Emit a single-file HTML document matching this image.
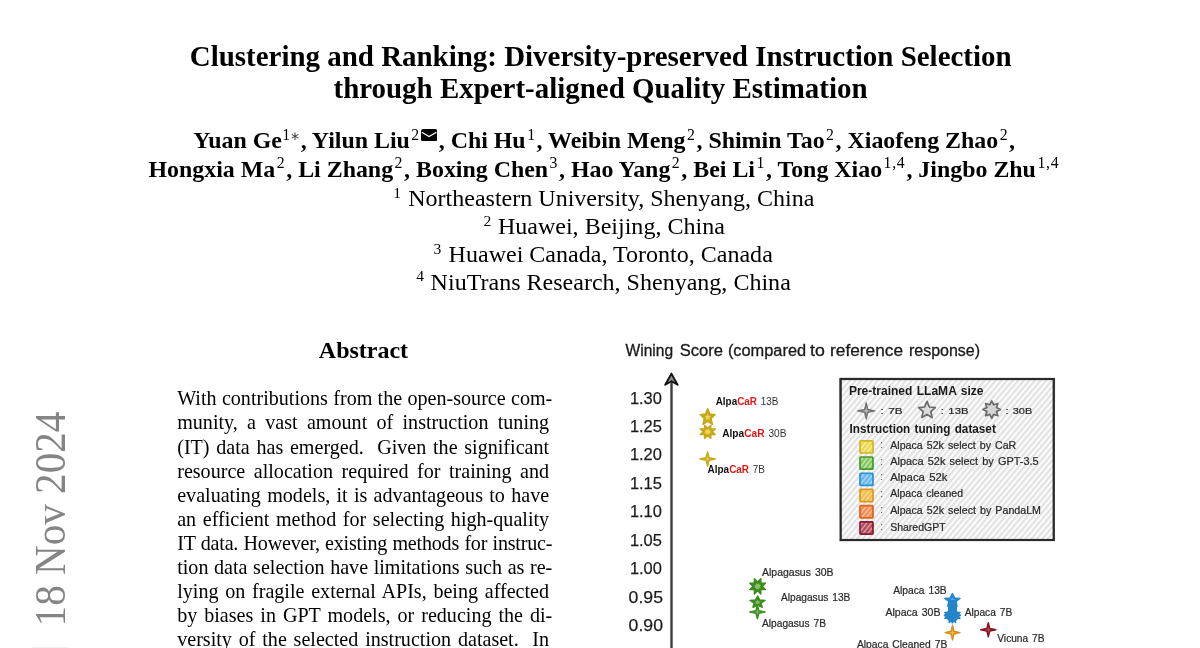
<!DOCTYPE html>
<html><head><meta charset="utf-8"><title>Clustering and Ranking</title>
<style>
html,body{margin:0;padding:0;background:#fff;}
body{width:1200px;height:648px;overflow:hidden;position:relative;font-family:"Liberation Serif",serif;color:#000;}
.l{position:absolute;white-space:nowrap;line-height:1;}
.t{font-weight:bold;}
.a{font-weight:bold;}
.s{display:inline-block;font-weight:normal;font-size:15.8px;position:relative;top:-8.7px;line-height:0;text-align:left;box-sizing:border-box;padding-left:1.5px;}
.fs{position:absolute;font-size:15.6px;line-height:1;}
#stamp{position:absolute;left:0;top:0;color:#858585;transform-origin:0 0;white-space:nowrap;line-height:1;}
svg text{font-family:"Liberation Sans",sans-serif;word-spacing:1.1px;}
</style></head><body><div id="wrap" style="position:absolute;left:0;top:0;width:1200px;height:648px;will-change:transform;">
<div class="l t" id="t1" style="left:189.80px;top:42.06px;font-size:28.94px;">Clustering and Ranking: Diversity-preserved Instruction Selection</div>
<div class="l t" id="t2" style="left:333.50px;top:73.56px;font-size:28.94px;">through Expert-aligned Quality Estimation</div>
<div class="l a" id="a1" style="left:193.20px;top:129.38px;font-size:23.90px;"><span class="n">Yuan Ge</span><span class="s" style="width:18.80px;padding-left:0.4px">1<span style="font-size:11.5px;position:relative;top:0.4px;left:-0.3px;color:#444">∗</span></span>, <span class="n">Yilun Liu</span><span class="s" style="width:10.95px">2</span><svg width="16.2" height="12.4" viewBox="0 0 16.2 12.4" style="display:inline-block;position:relative;top:-7.3px;margin:0 1.3px 0 0.4px"><rect x="0" y="0" width="16.2" height="12.4" rx="2.2" fill="#000"/><path d="M0.8 3.3 L8.1 7.6 L15.4 3.3" stroke="#fff" stroke-width="1.25" fill="none"/></svg>, <span class="n">Chi Hu</span><span class="s" style="width:10.95px">1</span>, <span class="n">Weibin Meng</span><span class="s" style="width:10.95px">2</span>, <span class="n">Shimin Tao</span><span class="s" style="width:10.95px">2</span>, <span class="n">Xiaofeng Zhao</span><span class="s" style="width:10.95px">2</span>,</div>
<div class="l a" id="a2" style="left:148.50px;top:157.58px;font-size:23.90px;"><span class="n">Hongxia Ma</span><span class="s" style="width:10.95px">2</span>, <span class="n">Li Zhang</span><span class="s" style="width:10.95px">2</span>, <span class="n">Boxing Chen</span><span class="s" style="width:10.95px">3</span>, <span class="n">Hao Yang</span><span class="s" style="width:10.95px">2</span>, <span class="n">Bei Li</span><span class="s" style="width:10.95px">1</span>, <span class="n">Tong Xiao</span><span class="s" style="width:24.30px">1<span style="margin:0 0.7px">,</span>4</span>, <span class="n">Jingbo Zhu</span><span class="s" style="width:22.00px">1<span style="margin:0 0.7px">,</span>4</span></div>
<div class="fs" style="left:393.20px;top:184.53px;">1</div>
<div class="l f" id="f1" style="left:408.20px;top:185.77px;font-size:24.04px;">Northeastern University, Shenyang, China</div>
<div class="fs" style="left:483.50px;top:212.63px;">2</div>
<div class="l f" id="f2" style="left:497.90px;top:213.87px;font-size:24.04px;">Huawei, Beijing, China</div>
<div class="fs" style="left:433.60px;top:240.63px;">3</div>
<div class="l f" id="f3" style="left:448.60px;top:241.87px;font-size:24.04px;">Huawei Canada, Toronto, Canada</div>
<div class="fs" style="left:416.20px;top:268.33px;">4</div>
<div class="l f" id="f4" style="left:430.60px;top:269.57px;font-size:24.04px;">NiuTrans Research, Shenyang, China</div>
<div class="l a" id="ab" style="left:318.80px;top:337.70px;font-size:24.00px;">Abstract</div>
<div class="l b" id="p1" style="left:177.20px;top:388.37px;font-size:20.10px;word-spacing:0.297px;">With contributions from the open-source com-</div>
<div class="l b" id="p2" style="left:177.20px;top:412.47px;font-size:20.10px;word-spacing:4.251px;">munity, a vast amount of instruction tuning</div>
<div class="l b" id="p3" style="left:177.20px;top:436.57px;font-size:20.10px;word-spacing:1.691px;">(IT) data has emerged.&nbsp; Given the significant</div>
<div class="l b" id="p4" style="left:177.20px;top:460.67px;font-size:20.10px;word-spacing:3.526px;">resource allocation required for training and</div>
<div class="l b" id="p5" style="left:177.20px;top:484.77px;font-size:20.10px;word-spacing:1.254px;">evaluating models, it is advantageous to have</div>
<div class="l b" id="p6" style="left:177.20px;top:508.87px;font-size:20.10px;word-spacing:1.583px;">an efficient method for selecting high-quality</div>
<div class="l b" id="p7" style="left:177.20px;top:532.97px;font-size:20.10px;word-spacing:0.480px;letter-spacing:-0.2px;">IT data. However, existing methods for instruc-</div>
<div class="l b" id="p8" style="left:177.20px;top:557.07px;font-size:20.10px;word-spacing:0.576px;">tion data selection have limitations such as re-</div>
<div class="l b" id="p9" style="left:177.20px;top:581.17px;font-size:20.10px;word-spacing:1.691px;">lying on fragile external APIs, being affected</div>
<div class="l b" id="p10" style="left:177.20px;top:605.27px;font-size:20.10px;word-spacing:1.940px;">by biases in GPT models, or reducing the di-</div>
<div class="l b" id="p11" style="left:177.20px;top:629.37px;font-size:20.10px;word-spacing:1.796px;">versity of the selected instruction dataset.&nbsp; In</div>
<div id="stamp" style="font-size:43.8px;transform:translate(28.6px,626.4px) rotate(-90deg) scale(0.939,1);">18 Nov 2024</div>
<div style="position:absolute;left:32px;top:647px;width:36.5px;height:1px;background:#f2f2f2"></div>
<svg id="chart" width="1200" height="648" viewBox="0 0 1200 648" style="position:absolute;left:0;top:0;overflow:visible">
<defs>
<pattern id="hat" width="4.3" height="4.3" patternUnits="userSpaceOnUse" patternTransform="rotate(-50)"><rect width="4.3" height="4.3" fill="#fdfdfd"/><rect y="0" width="4.3" height="2.3" fill="#e3e3e3"/></pattern>
<pattern id="hw" width="3.6" height="3.6" patternUnits="userSpaceOnUse" patternTransform="rotate(-52)"><rect y="0" width="3.6" height="1.2" fill="#fff" fill-opacity="0.55"/></pattern>
</defs>
<text x="625.50" y="356.40" font-size="15.80" fill="#1a1a1a" font-weight="normal" textLength="47.60" lengthAdjust="spacingAndGlyphs" stroke="#1a1a1a" stroke-width="0.3">Wining</text>
<text x="679.80" y="356.40" font-size="15.80" fill="#1a1a1a" font-weight="normal" textLength="43.20" lengthAdjust="spacingAndGlyphs" stroke="#1a1a1a" stroke-width="0.3">Score</text>
<text x="727.90" y="356.40" font-size="15.80" fill="#1a1a1a" font-weight="normal" textLength="78.20" lengthAdjust="spacingAndGlyphs" stroke="#1a1a1a" stroke-width="0.3">(compared</text>
<text x="810.10" y="356.40" font-size="15.80" fill="#1a1a1a" font-weight="normal" textLength="14.80" lengthAdjust="spacingAndGlyphs" stroke="#1a1a1a" stroke-width="0.3">to</text>
<text x="830.10" y="356.40" font-size="15.80" fill="#1a1a1a" font-weight="normal" textLength="73.00" lengthAdjust="spacingAndGlyphs" stroke="#1a1a1a" stroke-width="0.3">reference</text>
<text x="908.90" y="356.40" font-size="15.80" fill="#1a1a1a" font-weight="normal" textLength="71.20" lengthAdjust="spacingAndGlyphs" stroke="#1a1a1a" stroke-width="0.3">response)</text>
<path d="M671.5 648 L671.5 380" stroke="#3c3c3c" stroke-width="2.4" fill="none"/>
<path d="M665.2 384.8 L671.4 373.6 L677.6 384.8 L671.5 381.2 Z" stroke="#141414" stroke-width="1.9" fill="#8a8a8a" stroke-linejoin="round"/>
<text x="629.90" y="403.60" font-size="16.80" fill="#1c1c1c" font-weight="normal" textLength="32.00" lengthAdjust="spacingAndGlyphs" stroke="#1c1c1c" stroke-width="0.25">1.30</text>
<text x="629.90" y="432.02" font-size="16.80" fill="#1c1c1c" font-weight="normal" textLength="32.00" lengthAdjust="spacingAndGlyphs" stroke="#1c1c1c" stroke-width="0.25">1.25</text>
<text x="629.90" y="460.44" font-size="16.80" fill="#1c1c1c" font-weight="normal" textLength="32.00" lengthAdjust="spacingAndGlyphs" stroke="#1c1c1c" stroke-width="0.25">1.20</text>
<text x="629.90" y="488.86" font-size="16.80" fill="#1c1c1c" font-weight="normal" textLength="32.00" lengthAdjust="spacingAndGlyphs" stroke="#1c1c1c" stroke-width="0.25">1.15</text>
<text x="629.90" y="517.28" font-size="16.80" fill="#1c1c1c" font-weight="normal" textLength="32.00" lengthAdjust="spacingAndGlyphs" stroke="#1c1c1c" stroke-width="0.25">1.10</text>
<text x="629.90" y="545.70" font-size="16.80" fill="#1c1c1c" font-weight="normal" textLength="32.00" lengthAdjust="spacingAndGlyphs" stroke="#1c1c1c" stroke-width="0.25">1.05</text>
<text x="629.90" y="574.12" font-size="16.80" fill="#1c1c1c" font-weight="normal" textLength="32.00" lengthAdjust="spacingAndGlyphs" stroke="#1c1c1c" stroke-width="0.25">1.00</text>
<text x="628.60" y="602.54" font-size="16.80" fill="#1c1c1c" font-weight="normal" textLength="34.40" lengthAdjust="spacingAndGlyphs" stroke="#1c1c1c" stroke-width="0.25">0.95</text>
<text x="628.60" y="630.96" font-size="16.80" fill="#1c1c1c" font-weight="normal" textLength="34.40" lengthAdjust="spacingAndGlyphs" stroke="#1c1c1c" stroke-width="0.25">0.90</text>
<rect x="840.7" y="379" width="213" height="161" fill="url(#hat)" stroke="#2b2b2b" stroke-width="2.2"/>
<path d="M840 378.4 L1055 378.9 M1054.6 378 L1054.2 541 M839.8 378 L840.4 541.2 M839.6 540.6 L1055 540.2" stroke="#2b2b2b" stroke-width="0.9" fill="none" opacity="0.8"/>
<text x="848.90" y="394.70" font-size="12.60" fill="#1a1a1a" font-weight="bold" textLength="134.60" lengthAdjust="spacingAndGlyphs" >Pre-trained LLaMA size</text>
<polygon points="866.20,402.65 867.82,409.32 874.70,410.90 867.82,412.48 866.20,419.15 864.58,412.48 857.70,410.90 864.58,409.32" fill="#757575" stroke="#757575" stroke-width="1.20" stroke-linejoin="round"/><polygon points="866.20,406.77 866.86,410.26 870.45,410.90 866.86,411.54 866.20,415.02 865.54,411.54 861.95,410.90 865.54,410.26" fill="#cfcfcf" opacity="0.9"/>
<text x="880.40" y="414.00" font-size="9.80" fill="#2a2a2a" font-weight="normal" textLength="22.00" lengthAdjust="spacingAndGlyphs" stroke="#2a2a2a" stroke-width="0.22">: 7B</text>
<polygon points="927.00,401.35 929.37,406.99 935.35,407.56 930.84,411.62 932.16,417.61 927.00,414.47 921.84,417.61 923.16,411.62 918.65,407.56 924.63,406.99" fill="#dadada" stroke="#6a6a6a" stroke-width="1.70" stroke-linejoin="round"/>
<text x="940.80" y="414.00" font-size="9.80" fill="#2a2a2a" font-weight="normal" textLength="27.70" lengthAdjust="spacingAndGlyphs" stroke="#2a2a2a" stroke-width="0.22">: 13B</text>
<polygon points="991.70,400.95 993.69,404.81 997.82,403.48 996.49,407.61 1000.35,409.60 996.49,411.59 997.82,415.72 993.69,414.39 991.70,418.25 989.71,414.39 985.58,415.72 986.91,411.59 983.05,409.60 986.91,407.61 985.58,403.48 989.71,404.81" fill="#d4d4d4" stroke="#6a6a6a" stroke-width="1.70" stroke-linejoin="round"/>
<text x="1005.40" y="414.00" font-size="9.80" fill="#2a2a2a" font-weight="normal" textLength="26.80" lengthAdjust="spacingAndGlyphs" stroke="#2a2a2a" stroke-width="0.22">: 30B</text>
<text x="849.60" y="433.00" font-size="12.60" fill="#1a1a1a" font-weight="bold" textLength="146.20" lengthAdjust="spacingAndGlyphs" >Instruction tuning dataset</text>
<rect x="860" y="440.80" width="13.0" height="12.2" fill="#ead94c" stroke="#d2b62a" stroke-width="1.7" rx="0.8"/>
<rect x="861" y="441.80" width="11.0" height="10.2" fill="url(#hw)"/>
<text x="880.30" y="448.10" font-size="10.00" fill="#555" font-weight="normal" >:</text>
<text x="890.20" y="448.70" font-size="10.50" fill="#2a2a2a" font-weight="normal" textLength="126.10" lengthAdjust="spacingAndGlyphs" stroke="#2a2a2a" stroke-width="0.22">Alpaca 52k select by CaR</text>
<rect x="860" y="457.02" width="13.0" height="12.2" fill="#86c860" stroke="#469a2c" stroke-width="1.7" rx="0.8"/>
<rect x="861" y="458.02" width="11.0" height="10.2" fill="url(#hw)"/>
<text x="880.30" y="464.60" font-size="10.00" fill="#555" font-weight="normal" >:</text>
<text x="890.20" y="465.20" font-size="10.50" fill="#2a2a2a" font-weight="normal" textLength="148.40" lengthAdjust="spacingAndGlyphs" stroke="#2a2a2a" stroke-width="0.22">Alpaca 52k select by GPT-3.5</text>
<rect x="860" y="473.24" width="13.0" height="12.2" fill="#62b8ea" stroke="#2c90d6" stroke-width="1.7" rx="0.8"/>
<rect x="861" y="474.24" width="11.0" height="10.2" fill="url(#hw)"/>
<text x="880.30" y="480.00" font-size="10.00" fill="#555" font-weight="normal" >:</text>
<text x="890.20" y="480.60" font-size="10.50" fill="#2a2a2a" font-weight="normal" textLength="57.30" lengthAdjust="spacingAndGlyphs" stroke="#2a2a2a" stroke-width="0.22">Alpaca 52k</text>
<rect x="860" y="489.46" width="13.0" height="12.2" fill="#f2bc48" stroke="#e0981c" stroke-width="1.7" rx="0.8"/>
<rect x="861" y="490.46" width="11.0" height="10.2" fill="url(#hw)"/>
<text x="880.30" y="496.80" font-size="10.00" fill="#555" font-weight="normal" >:</text>
<text x="890.20" y="497.40" font-size="10.50" fill="#2a2a2a" font-weight="normal" textLength="72.80" lengthAdjust="spacingAndGlyphs" stroke="#2a2a2a" stroke-width="0.22">Alpaca cleaned</text>
<rect x="860" y="505.68" width="13.0" height="12.2" fill="#f48c52" stroke="#e2621e" stroke-width="1.7" rx="0.8"/>
<rect x="861" y="506.68" width="11.0" height="10.2" fill="url(#hw)"/>
<text x="880.30" y="513.20" font-size="10.00" fill="#555" font-weight="normal" >:</text>
<text x="890.20" y="513.80" font-size="10.50" fill="#2a2a2a" font-weight="normal" textLength="150.80" lengthAdjust="spacingAndGlyphs" stroke="#2a2a2a" stroke-width="0.22">Alpaca 52k select by PandaLM</text>
<rect x="860" y="521.90" width="13.0" height="12.2" fill="#b44a5a" stroke="#8c1c2e" stroke-width="1.7" rx="0.8"/>
<rect x="861" y="522.90" width="11.0" height="10.2" fill="url(#hw)"/>
<text x="880.30" y="530.40" font-size="10.00" fill="#555" font-weight="normal" >:</text>
<text x="890.20" y="531.00" font-size="10.50" fill="#2a2a2a" font-weight="normal" textLength="55.40" lengthAdjust="spacingAndGlyphs" stroke="#2a2a2a" stroke-width="0.22">SharedGPT</text>
<polygon points="710.85,425.20 710.84,429.07 715.30,429.07 712.14,431.80 715.30,434.53 710.84,434.53 710.85,438.40 707.70,435.66 704.55,438.40 704.56,434.53 700.10,434.53 703.26,431.80 700.10,429.07 704.56,429.07 704.55,425.20 707.70,427.94" fill="#c6a81a" stroke="#c6a81a" stroke-width="1.40" stroke-linejoin="round"/><polygon points="709.01,429.06 709.39,430.33 710.86,430.66 710.09,431.80 710.86,432.94 709.39,433.27 709.01,434.54 707.70,433.88 706.39,434.54 706.01,433.27 704.54,432.94 705.31,431.80 704.54,430.66 706.01,430.33 706.39,429.06 707.70,429.72" fill="#ecdc58" opacity="0.9"/>
<polygon points="707.70,408.60 709.86,414.06 715.30,414.61 711.20,418.53 712.40,424.33 707.70,421.30 703.00,424.33 704.20,418.53 700.10,414.61 705.54,414.06" fill="#c6a81a" stroke="#c6a81a" stroke-width="1.40" stroke-linejoin="round"/><polygon points="707.70,413.64 708.69,415.82 710.89,416.17 709.30,417.86 709.67,420.25 707.70,419.12 705.73,420.25 706.10,417.86 704.51,416.17 706.71,415.82" fill="#ecdc58" opacity="0.9"/>
<polygon points="707.60,451.80 709.05,457.63 715.20,459.00 709.05,460.37 707.60,466.20 706.15,460.37 700.00,459.00 706.15,457.63" fill="#c6a81a" stroke="#c6a81a" stroke-width="1.40" stroke-linejoin="round"/><polygon points="707.60,455.40 708.19,458.44 711.40,459.00 708.19,459.56 707.60,462.60 707.01,459.56 703.80,459.00 707.01,458.44" fill="#ecdc58" opacity="0.9"/>
<text x="715.70" y="404.70" font-size="10.4" textLength="62.80" lengthAdjust="spacingAndGlyphs"><tspan font-weight="bold" fill="#111">Alpa</tspan><tspan font-weight="bold" fill="#e01818">CaR</tspan><tspan fill="#333"> 13B</tspan></text>
<text x="722.20" y="436.70" font-size="10.4" textLength="64.30" lengthAdjust="spacingAndGlyphs"><tspan font-weight="bold" fill="#111">Alpa</tspan><tspan font-weight="bold" fill="#e01818">CaR</tspan><tspan fill="#333"> 30B</tspan></text>
<text x="707.60" y="473.00" font-size="10.4" textLength="57.40" lengthAdjust="spacingAndGlyphs"><tspan font-weight="bold" fill="#111">Alpa</tspan><tspan font-weight="bold" fill="#e01818">CaR</tspan><tspan fill="#333"> 7B</tspan></text>
<polygon points="760.83,578.80 760.82,583.26 765.40,583.25 762.16,586.40 765.40,589.55 760.82,589.54 760.83,594.00 757.60,590.84 754.37,594.00 754.38,589.54 749.80,589.55 753.04,586.40 749.80,583.25 754.38,583.26 754.37,578.80 757.60,581.96" fill="#3c8c1c" stroke="#3c8c1c" stroke-width="1.40" stroke-linejoin="round"/><polygon points="758.94,583.24 759.34,584.71 760.84,585.09 760.06,586.40 760.84,587.71 759.34,588.09 758.94,589.56 757.60,588.79 756.26,589.56 755.86,588.09 754.36,587.71 755.14,586.40 754.36,585.09 755.86,584.71 756.26,583.24 757.60,584.01" fill="#8cc870" opacity="0.9"/>
<polygon points="757.60,596.05 759.73,599.95 765.10,600.34 761.05,603.14 762.24,607.28 757.60,605.12 752.96,607.28 754.15,603.14 750.10,600.34 755.47,599.95" fill="#3c8c1c" stroke="#3c8c1c" stroke-width="1.40" stroke-linejoin="round"/><polygon points="757.60,599.65 758.57,601.20 760.75,601.45 759.18,602.66 759.55,604.37 757.60,603.56 755.65,604.37 756.02,602.66 754.45,601.45 756.63,601.20" fill="#8cc870" opacity="0.9"/>
<polygon points="757.40,605.30 758.85,610.72 765.00,612.00 758.85,613.28 757.40,618.70 755.95,613.28 749.80,612.00 755.95,610.72" fill="#3c8c1c" stroke="#3c8c1c" stroke-width="1.40" stroke-linejoin="round"/><polygon points="757.40,608.65 757.99,611.48 761.20,612.00 757.99,612.52 757.40,615.35 756.81,612.52 753.60,612.00 756.81,611.48" fill="#8cc870" opacity="0.9"/>
<text x="762.00" y="575.60" font-size="10.40" fill="#2a2a2a" font-weight="normal" textLength="71.60" lengthAdjust="spacingAndGlyphs" stroke="#2a2a2a" stroke-width="0.22">Alpagasus 30B</text>
<text x="781.00" y="601.00" font-size="10.40" fill="#2a2a2a" font-weight="normal" textLength="69.40" lengthAdjust="spacingAndGlyphs" stroke="#2a2a2a" stroke-width="0.22">Alpagasus 13B</text>
<text x="762.00" y="626.60" font-size="10.40" fill="#2a2a2a" font-weight="normal" textLength="64.00" lengthAdjust="spacingAndGlyphs" stroke="#2a2a2a" stroke-width="0.22">Alpagasus 7B</text>
<polygon points="952.40,593.50 954.56,597.92 960.00,598.36 955.90,601.54 957.10,606.23 952.40,603.78 947.70,606.23 948.90,601.54 944.80,598.36 950.24,597.92" fill="#2484cc" stroke="#2484cc" stroke-width="1.40" stroke-linejoin="round"/><polygon points="952.40,597.58 953.39,599.34 955.59,599.63 954.00,601.00 954.37,602.93 952.40,602.02 950.43,602.93 950.80,601.00 949.21,599.63 951.41,599.34" fill="#64b4ec" opacity="0.9"/>
<rect x="948" y="600" width="9" height="12" fill="#2484cc"/><ellipse cx="952.4" cy="615.6" rx="6.6" ry="6.2" fill="#2484cc"/>
<polygon points="955.55,608.30 955.54,612.47 960.00,612.46 956.84,615.40 960.00,618.34 955.54,618.33 955.55,622.50 952.40,619.55 949.25,622.50 949.26,618.33 944.80,618.34 947.96,615.40 944.80,612.46 949.26,612.47 949.25,608.30 952.40,611.25" fill="#2484cc" stroke="#2484cc" stroke-width="1.40" stroke-linejoin="round"/><polygon points="953.71,612.45 954.09,613.82 955.56,614.18 954.79,615.40 955.56,616.62 954.09,616.98 953.71,618.35 952.40,617.64 951.09,618.35 950.71,616.98 949.24,616.62 950.01,615.40 949.24,614.18 950.71,613.82 951.09,612.45 952.40,613.16" fill="#64b4ec" opacity="0.9"/>
<polygon points="952.40,608.40 953.85,614.06 960.00,615.40 953.85,616.74 952.40,622.40 950.95,616.74 944.80,615.40 950.95,614.06" fill="#2484cc" stroke="#2484cc" stroke-width="2.20" stroke-linejoin="round"/>
<polygon points="952.50,625.30 953.91,631.21 959.90,632.60 953.91,633.99 952.50,639.90 951.09,633.99 945.10,632.60 951.09,631.21" fill="#d8901c" stroke="#d8901c" stroke-width="1.40" stroke-linejoin="round"/><polygon points="952.50,628.95 953.08,632.03 956.20,632.60 953.08,633.17 952.50,636.25 951.92,633.17 948.80,632.60 951.92,632.03" fill="#f4c058" opacity="0.9"/>
<polygon points="988.30,622.60 989.75,628.34 995.90,629.70 989.75,631.06 988.30,636.80 986.85,631.06 980.70,629.70 986.85,628.34" fill="#821420" stroke="#821420" stroke-width="1.40" stroke-linejoin="round"/><polygon points="988.30,626.15 988.89,629.15 992.10,629.70 988.89,630.25 988.30,633.25 987.71,630.25 984.50,629.70 987.71,629.15" fill="#c06068" opacity="0.9"/>
<text x="893.20" y="594.40" font-size="10.40" fill="#2a2a2a" font-weight="normal" textLength="53.50" lengthAdjust="spacingAndGlyphs" stroke="#2a2a2a" stroke-width="0.22">Alpaca 13B</text>
<text x="885.50" y="615.80" font-size="10.40" fill="#2a2a2a" font-weight="normal" textLength="55.00" lengthAdjust="spacingAndGlyphs" stroke="#2a2a2a" stroke-width="0.22">Alpaca 30B</text>
<text x="964.70" y="615.80" font-size="10.40" fill="#2a2a2a" font-weight="normal" textLength="47.60" lengthAdjust="spacingAndGlyphs" stroke="#2a2a2a" stroke-width="0.22">Alpaca 7B</text>
<text x="997.30" y="642.40" font-size="10.40" fill="#2a2a2a" font-weight="normal" textLength="47.10" lengthAdjust="spacingAndGlyphs" stroke="#2a2a2a" stroke-width="0.22">Vicuna 7B</text>
<text x="856.90" y="648.20" font-size="10.40" fill="#2a2a2a" font-weight="normal" textLength="90.40" lengthAdjust="spacingAndGlyphs" stroke="#2a2a2a" stroke-width="0.22">Alpaca Cleaned 7B</text>
</svg>
</div></body></html>
